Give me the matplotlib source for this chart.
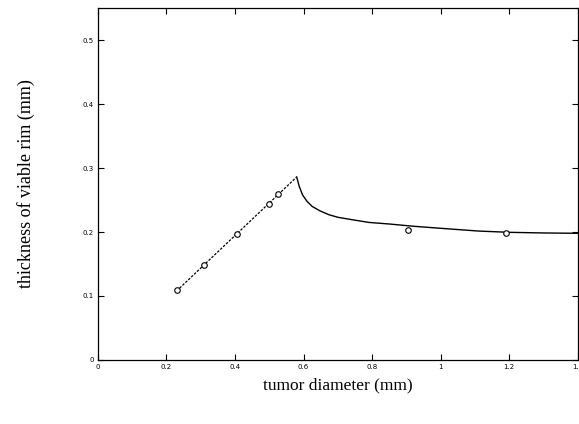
import numpy as np
import matplotlib.pyplot as plt

# measured points (markers)
meas_x = [0.23, 0.31, 0.405, 0.50, 0.525, 0.905, 1.19]
meas_y = [0.109, 0.148, 0.197, 0.244, 0.259, 0.203, 0.198]

# linear fit for small tumors (dashed)
fit_x = [0.23, 0.58]
fit_y = [0.108, 0.286]

# model curve for large tumors (solid)
curve_x = [0.58, 0.587, 0.597, 0.61, 0.625, 0.648, 0.674, 0.70, 0.733, 0.79, 0.85, 0.92, 1.02, 1.11, 1.2, 1.3, 1.4]
curve_y = [0.286, 0.272, 0.258, 0.248, 0.240, 0.233, 0.227, 0.223, 0.220, 0.215, 0.2125, 0.209, 0.205, 0.2015, 0.1995, 0.1985, 0.198]

xticks = [0, 0.2, 0.4, 0.6, 0.8, 1, 1.2, 1.4]
yticks = [0, 0.1, 0.2, 0.3, 0.4, 0.5]

fig = plt.figure(figsize=(5.79, 4.24), dpi=100)
ax = fig.add_axes([0.169, 0.151, 0.829, 0.830])

ax.plot(fit_x, fit_y, color='black', lw=0.9, ls=(0, (2, 1.2)))
ax.plot(curve_x, curve_y, color='black', lw=1.0)
ax.plot(meas_x, meas_y, ls='none', marker='o', ms=4, mfc='white', mec='black', mew=0.8)

ax.set_xlim(0, 1.4)
ax.set_ylim(0, 0.55)
ax.set_xticks(xticks)
ax.set_yticks(yticks)
ax.set_xticklabels(['0', '0.2', '0.4', '0.6', '0.8', '1', '1.2', '1.4'])
ax.set_yticklabels(['0', '0.1', '0.2', '0.3', '0.4', '0.5'])
ax.tick_params(direction='in', length=4, width=0.8, labelsize=5, top=True, right=True, pad=3)
for s in ax.spines.values():
    s.set_linewidth(0.9)

ax.set_xlabel('tumor diameter (mm)', family='Liberation Serif', fontsize=12.5, labelpad=5)
ax.set_ylabel('thickness of viable rim (mm)', family='Liberation Serif', fontsize=13, labelpad=34)

fig.savefig('out.png', dpi=100)
